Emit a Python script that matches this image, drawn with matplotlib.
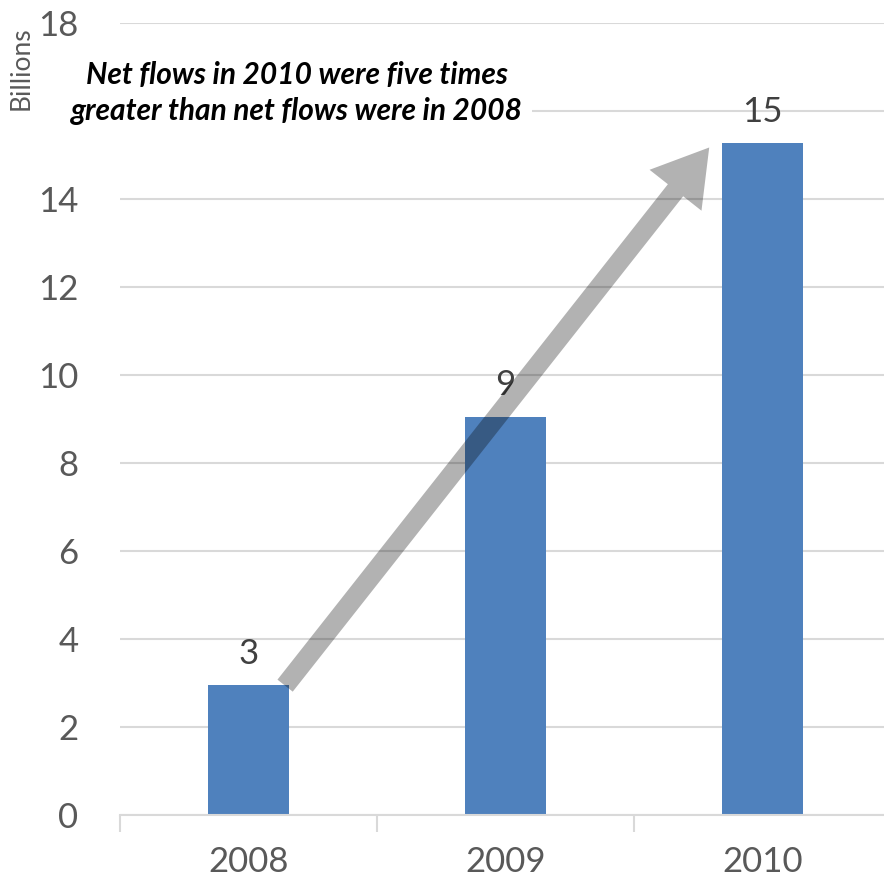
import matplotlib
matplotlib.use("Agg")
import matplotlib.pyplot as plt
from matplotlib.patches import FancyArrowPatch

years = ["2008", "2009", "2010"]
net_flows = [2.95, 9.05, 15.27]  # billions
y_ticks = [0, 2, 4, 6, 8, 10, 12, 14, 16, 18]
y_tick_labels = ["0", "2", "4", "6", "8", "10", "12", "14", "", "18"]

plt.rcParams["font.family"] = ["Lato", "DejaVu Sans"]

fig = plt.figure(figsize=(8.84, 8.77), dpi=100)
ax = fig.add_axes([0.1357, 0.0707, 0.872, 0.9031])

x = list(range(len(years)))
bars = ax.bar(x, net_flows, width=0.315, color="#4f81bd", zorder=2)

ax.set_xlim(-0.5, 2.5)
ax.set_ylim(0, 18)
ax.set_yticks(y_ticks)
ax.set_yticklabels(y_tick_labels)
ax.set_xticks(x)
ax.set_xticklabels(years)

ax.grid(axis="y", color="#d9d9d9", linewidth=1.5, zorder=0)
ax.set_axisbelow(True)
for side in ("top", "right", "left"):
    ax.spines[side].set_visible(False)
ax.spines["bottom"].set_color("#d9d9d9")
ax.spines["bottom"].set_linewidth(1.5)

ax.tick_params(axis="y", length=0, pad=30, labelsize=25, labelcolor="#595959")
ax.tick_params(axis="x", which="major", length=0, pad=22, labelsize=25,
               labelcolor="#595959")
# category boundary ticks on the x axis
ax.set_xticks([-0.5, 0.5, 1.5, 2.5], minor=True)
ax.tick_params(axis="x", which="minor", length=12, width=1.5, color="#d9d9d9",
               direction="out")

# value labels
for xi, v in zip(x, net_flows):
    ax.text(xi, v + 0.35, f"{v:.0f}", ha="center", va="bottom",
            fontsize=25, color="#404040", zorder=4)

ax.text(0.19, 16.4, "Net flows in 2010 were five times\ngreater than net flows were in 2008",
        ha="center", va="center", fontsize=21.5, fontweight="bold",
        fontstyle="italic", color="black", linespacing=1.35, zorder=3,
        bbox=dict(facecolor="white", edgecolor="none", pad=6))

fig.text(0.024, 0.922, "Billions", rotation=90, ha="center", va="center",
         fontsize=19, color="#595959")

arrow = FancyArrowPatch((0.136, 2.89), (1.80, 15.22),
                        arrowstyle="simple,head_width=3.4,head_length=2.8,tail_width=1.0",
                        mutation_scale=14, color="black", alpha=0.3,
                        linewidth=0, zorder=5)
ax.add_patch(arrow)

fig.savefig("out.png", dpi=100)
